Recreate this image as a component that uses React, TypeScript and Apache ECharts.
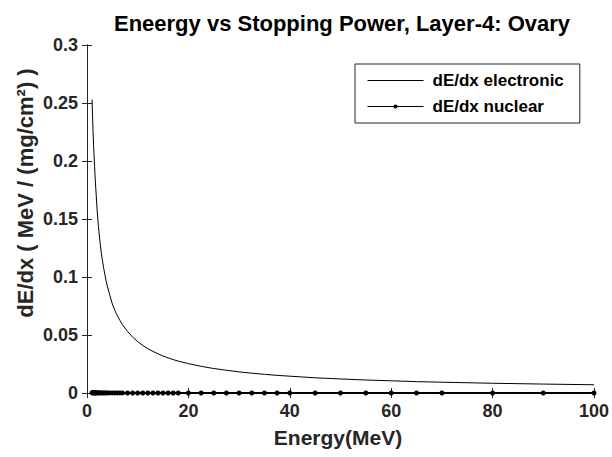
import React, { useEffect, useRef } from "react";
import * as echarts from "echarts";

const energy = [1, 1.1, 1.2, 1.3, 1.4, 1.5, 1.6, 1.7, 1.8, 2, 2.25, 2.5, 2.75, 3, 3.25, 3.5, 3.75, 4, 4.5, 5, 5.5, 6, 6.5, 7, 8, 9, 10, 11, 12, 13, 14, 15, 16, 17, 18, 20, 22.5, 25, 27.5, 30, 32.5, 35, 37.5, 40, 45, 50, 55, 60, 65, 70, 80, 90, 100];

const electronic = [0.253, 0.2377, 0.225, 0.2134, 0.2037, 0.195, 0.1862, 0.1785, 0.1717, 0.1575, 0.1436, 0.1329, 0.1232, 0.1154, 0.1086, 0.1028, 0.097, 0.0923, 0.0843, 0.0767, 0.0711, 0.0665, 0.0625, 0.0589, 0.053, 0.0482, 0.0443, 0.041, 0.0382, 0.0359, 0.0338, 0.0319, 0.0303, 0.0288, 0.0275, 0.0253, 0.023, 0.0211, 0.0196, 0.0182, 0.0171, 0.0161, 0.0152, 0.0145, 0.0131, 0.0121, 0.0112, 0.0105, 0.0098, 0.0093, 0.0084, 0.0077, 0.0071];

const nuclear = [0.00021, 0.00019, 0.00018, 0.00017, 0.00016, 0.00015, 0.00014, 0.00013, 0.00013, 0.00012, 0.00011, 0.0001, 0.00009, 0.00008, 0.00008, 0.00007, 0.00007, 0.00006, 0.00006, 0.00005, 0.00005, 0.00004, 0.00004, 0.00004, 0.00003, 0.00003, 0.00003, 0.00003, 0.00002, 0.00002, 0.00002, 0.00002, 0.00002, 0.00002, 0.00002, 0.00001, 0.00001, 0.00001, 0.00001, 0.00001, 0.00001, 0.00001, 0.00001, 0.00001, 0.00001, 0.00001, 0.000005, 0.000005, 0.000005, 0.000005, 0.000004, 0.000004, 0.000004];

const titleText = "Eneergy vs Stopping Power, Layer-4: Ovary";
const xTitle = "Energy(MeV)";
const yTitle = "dE/dx ( MeV / (mg/cm²) )";
const seriesNames = ["dE/dx electronic", "dE/dx nuclear"];

const FONT = '"Liberation Sans", Arial, sans-serif';
const AXIS = "#262626";

export default function App() {
  const ref = useRef<HTMLDivElement>(null);
  useEffect(() => {
    if (!ref.current) return;
    const chart = echarts.init(ref.current, null, { renderer: "svg" });
    const labelStyle = {
      fontSize: 18,
      fontWeight: "bold" as const,
      fontFamily: FONT,
      color: AXIS,
    };
    const xBase = {
      type: "value" as const,
      min: 0,
      max: 100,
      interval: 20,
      splitLine: { show: false },
      axisLine: { show: true, lineStyle: { color: AXIS, width: 1 } },
      axisTick: { show: true, inside: true, length: 5, lineStyle: { color: AXIS } },
    };
    const yBase = {
      type: "value" as const,
      min: 0,
      max: 0.3,
      interval: 0.05,
      splitLine: { show: false },
      axisLine: { show: true, lineStyle: { color: AXIS, width: 1 } },
      axisTick: { show: true, inside: true, length: 5, lineStyle: { color: AXIS } },
    };
    chart.setOption({
      animation: false,
      backgroundColor: "#fff",
      grid: { left: 87, top: 45, width: 510, height: 348, containLabel: false },
      xAxis: [
        { ...xBase, position: "bottom", axisLabel: { ...labelStyle, margin: 9 } },
        { ...xBase, position: "top", axisLabel: { show: false } },
      ],
      yAxis: [
        {
          ...yBase,
          position: "left",
          axisLabel: {
            ...labelStyle,
            margin: 9,
            formatter: (v: number) => String(+v.toFixed(2)),
          },
        },
        { ...yBase, position: "right", axisLabel: { show: false } },
      ],
      legend: {
        orient: "vertical",
        left: 355,
        top: 64,
        itemWidth: 56,
        itemHeight: 5,
        itemGap: 9,
        padding: [8, 16, 8, 12],
        borderColor: AXIS,
        borderWidth: 1,
        backgroundColor: "#fff",
        textStyle: {
          fontSize: 17,
          fontWeight: "bold",
          fontFamily: FONT,
          color: "#000",
          lineHeight: 16,
          padding: [0, 0, 0, 4],
        },
        data: [
          {
            name: seriesNames[0],
            itemStyle: { color: "rgba(0,0,0,0)", borderWidth: 0, opacity: 0 },
            lineStyle: { width: 1, color: "#000" },
          },
          {
            name: seriesNames[1],
            lineStyle: { width: 1, color: "#000" },
          },
        ],
      },
      series: [
        {
          name: seriesNames[0],
          type: "line",
          data: energy.map((e, i) => [e, electronic[i]]),
          symbol: "none",
          lineStyle: { color: "#000", width: 1 },
          itemStyle: { color: "#000" },
        },
        {
          name: seriesNames[1],
          type: "line",
          data: energy.map((e, i) => [e, nuclear[i]]),
          symbol: "circle",
          symbolSize: 5,
          showSymbol: true,
          lineStyle: { color: "#000", width: 2 },
          itemStyle: { color: "#000" },
        },
      ],
      graphic: [
        {
          type: "text",
          x: 342,
          y: 23,
          style: {
            text: titleText,
            fontSize: 22,
            fontWeight: "bold",
            fontFamily: FONT,
            fill: "#000",
            align: "center",
            verticalAlign: "middle",
          },
        },
        {
          type: "text",
          x: 338,
          y: 437,
          style: {
            text: xTitle,
            fontSize: 21,
            fontWeight: "bold",
            fontFamily: FONT,
            fill: "#262626",
            align: "center",
            verticalAlign: "middle",
          },
        },
        {
          type: "text",
          x: 25,
          y: 193,
          rotation: Math.PI / 2,
          style: {
            text: yTitle,
            fontSize: 22,
            fontWeight: "bold",
            fontFamily: FONT,
            fill: "#262626",
            align: "center",
            verticalAlign: "middle",
          },
        },
      ],
    });
    return () => chart.dispose();
  }, []);
  return (
    <div
      ref={ref}
      style={{ position: "fixed", left: 0, top: 0, width: 612, height: 457 }}
    />
  );
}
